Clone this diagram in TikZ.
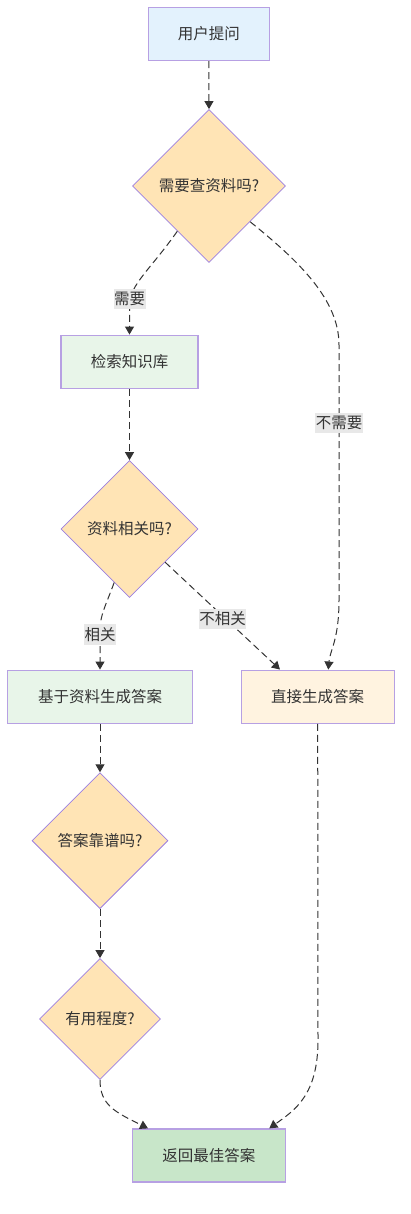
\documentclass[tikz,border=0pt]{standalone}
\usepackage{fontspec}
\newfontfamily\cjk{Noto Sans CJK SC}
\usetikzlibrary{shapes.geometric,arrows.meta}
\definecolor{txt}{HTML}{333333}
\definecolor{edgec}{HTML}{333333}
\definecolor{boxborder}{HTML}{B7A0E3}
\definecolor{dborder}{HTML}{9C7FE0}
\definecolor{dfill}{HTML}{FFE4B5}
\definecolor{bluefill}{HTML}{E3F2FD}
\definecolor{greenfill}{HTML}{E8F5E9}
\definecolor{orangefill}{HTML}{FFF3E0}
\definecolor{resfill}{HTML}{C8E6C9}
\definecolor{lblbg}{HTML}{E8E8E8}
\begin{document}
\begin{tikzpicture}[x=1pt,y=-1pt,
  every node/.style={font=\cjk\fontsize{15.5}{18}\selectfont, text=txt},
  procbox/.style={rectangle, draw=boxborder, line width=1.3pt, inner sep=0},
  decide/.style={diamond, draw=dborder, fill=dfill, line width=0.8pt, inner sep=0, aspect=1},
  conn/.style={draw=edgec, line width=1pt, dash pattern=on 7pt off 4pt, -{Triangle[length=8pt,width=9pt]}},
  lbl/.style={fill=lblbg, inner xsep=0.5pt, inner ysep=3pt}]
\useasboundingbox (0,0) rectangle (410,1214);

\node[procbox, fill=bluefill, minimum width=121pt, minimum height=53pt] (a) at (208.8,34) {用户提问};
\node[decide, minimum width=153pt, minimum height=153pt] (d1) at (209,186) {需要查资料吗?};
\node[procbox, fill=greenfill, minimum width=137pt, minimum height=53pt] (b) at (129.5,361.7) {检索知识库};
\node[decide, minimum width=137pt, minimum height=137pt] (d2) at (129.5,529) {资料相关吗?};
\node[procbox, fill=greenfill, minimum width=185pt, minimum height=53pt] (f) at (100,696.7) {基于资料生成答案};
\node[procbox, fill=orangefill, minimum width=153pt, minimum height=53pt] (g) at (317.7,696.7) {直接生成答案};
\node[decide, minimum width=136pt, minimum height=136pt] (d3) at (100,840.7) {答案靠谱吗?};
\node[decide, minimum width=121pt, minimum height=121pt] (d4) at (100,1019) {有用程度?};
\node[procbox, fill=resfill, minimum width=153pt, minimum height=53pt] (r) at (208.8,1155.5) {返回最佳答案};

\draw[conn] (a.south) -- (d1.north);
\draw[conn] (d1.-125) .. controls (150,270) and (129.5,285) .. (129.5,305) -- (b.north);
\draw[conn] (d1.-41) .. controls (300,262) and (339,300) .. (339,345) -- (339,600) .. controls (339,640) and (330,650) .. ([xshift=10.6pt]g.north);
\draw[conn] (b.south) -- (d2.north);
\draw[conn] (d2.-106) .. controls (106,605) and (100,615) .. (100,630) -- (f.north);
\draw[conn] (d2.-43.5) -- ([xshift=-37.7pt]g.north);
\draw[conn] (f.south) -- (d3.north);
\draw[conn] (d3.south) -- (d4.north);
\draw[conn] (d4.south) .. controls (100,1105) and (115,1112) .. ([xshift=-60.8pt]r.north);
\draw[conn] (g.south) -- (318,1040) .. controls (318,1095) and (295,1110) .. ([xshift=60.5pt]r.north);

\node[lbl] (l1) at (129.5,299) {需要};
\node[lbl] (l2) at (339,423) {不需要};
\node[lbl] (l3) at (100,634.5) {相关};
\node[lbl] (l4) at (222.5,619) {不相关};
\end{tikzpicture}
\end{document}
